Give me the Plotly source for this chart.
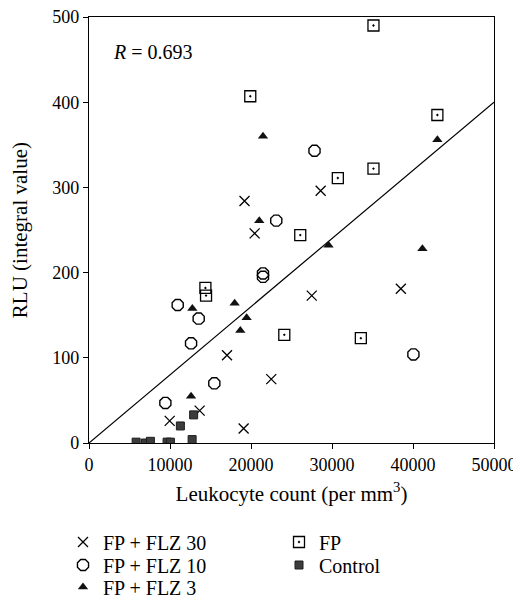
import plotly.graph_objects as go

# FP + FLZ 30 (x markers)
flz30_x = [19200, 28600, 20450, 27500, 38500, 17040, 22500, 13660, 9960, 19090]
flz30_y = [284, 296, 246, 173, 181, 103, 75, 38, 26, 17]

# FP + FLZ 10 (open octagons)
flz10_x = [23120, 27840, 21480, 21480, 10950, 13540, 12600, 15470, 9430, 40050]
flz10_y = [261, 343, 199, 195, 162, 146, 117, 70, 47, 104]

# FP + FLZ 3 (filled triangles)
flz3_x = [21480, 21020, 43010, 29570, 41160, 12760, 17980, 19460, 18680, 12600]
flz3_y = [360, 261, 356, 232, 228, 158, 164, 147, 132, 55]

# FP (open squares with dot)
fp_x = [19910, 35120, 43010, 30720, 35120, 26080, 14370, 14450, 24110, 33560]
fp_y = [407, 490, 385, 311, 322, 244, 182, 173, 127, 123]

# Control
ctrl_x = [5820, 6970, 7580, 9640, 10050, 12730, 12920, 11280]
ctrl_y = [1, 0, 2, 1, 1, 4, 33, 20]

# Regression line endpoints
line_x = [0, 50000]
line_y = [0, 400]

x_ticks = [0, 10000, 20000, 30000, 40000, 50000]
y_ticks = [0, 100, 200, 300, 400, 500]

FONT = "Liberation Serif, Times New Roman, serif"
BLACK = "black"
W, H = 513, 591  # page body has an 8px default margin

fig = go.Figure()
fig.add_trace(go.Scatter(x=line_x, y=line_y, mode="lines",
                         line=dict(color=BLACK, width=1.2),
                         showlegend=False, hoverinfo="skip"))

fig.add_trace(go.Scatter(x=flz30_x, y=flz30_y, mode="markers", name="FP + FLZ 30",
                         legend="legend",
                         marker=dict(symbol="x-thin-open", size=10,
                                     line=dict(color=BLACK, width=1.3), color=BLACK)))
fig.add_trace(go.Scatter(x=flz10_x, y=flz10_y, mode="markers", name="FP + FLZ 10",
                         legend="legend2",
                         marker=dict(symbol="octagon-open", size=12, color=BLACK,
                                     line=dict(color="#222", width=1.4))))
fig.add_trace(go.Scatter(x=flz3_x, y=flz3_y, mode="markers", name="FP + FLZ 3",
                         legend="legend3",
                         marker=dict(symbol="triangle-up", size=9, color="#111",
                                     line=dict(width=0))))
fig.add_trace(go.Scatter(x=fp_x, y=fp_y, mode="markers", name="FP",
                         legend="legend4",
                         marker=dict(symbol="square-open-dot", size=11, color=BLACK,
                                     line=dict(color="#222", width=1.3))))
fig.add_trace(go.Scatter(x=ctrl_x, y=ctrl_y, mode="markers", name="Control",
                         legend="legend5",
                         marker=dict(symbol="square", size=8, color="#3c3c3c",
                                     line=dict(color="#1e1e1e", width=1))))

fig.add_annotation(x=0.055, y=0.919, xref="paper", yref="paper",
                   xanchor="left", yanchor="middle",
                   text="<i>R</i> = 0.693", showarrow=False,
                   font=dict(family=FONT, size=20, color=BLACK))

# y-axis title
fig.add_annotation(x=-0.17, y=0.5, xref="paper", yref="paper",
                   xanchor="center", yanchor="middle", textangle=-90,
                   text="RLU (integral value)", showarrow=False,
                   font=dict(family=FONT, size=21, color=BLACK))

axis_common = dict(showgrid=False, zeroline=False, showline=True, linecolor=BLACK,
                   linewidth=1.2, mirror=True, ticks="outside", ticklen=5,
                   tickcolor=BLACK, ticklabeloverflow="allow",
                   tickfont=dict(family=FONT, size=18, color=BLACK))

fig.update_xaxes(range=[0, 50000], tickvals=x_ticks, ticktext=[str(v) for v in x_ticks],
                 automargin=True,
                 title=dict(text="Leukocyte count (per mm<sup>3</sup>)",
                            font=dict(family=FONT, size=21, color=BLACK), standoff=12),
                 **axis_common)
fig.update_yaxes(range=[0, 500], tickvals=y_ticks, ticktext=[str(v) for v in y_ticks],
                 automargin=False, **axis_common)


def leg(xpx, ypx):
    return dict(xref="container", yref="container", x=xpx / W, y=1 - ypx / H,
                xanchor="left", yanchor="middle", bgcolor="rgba(0,0,0,0)",
                font=dict(family=FONT, size=20, color=BLACK), borderwidth=0)


fig.update_layout(
    width=W, height=H,
    margin=dict(l=81, r=27, t=9, b=156, autoexpand=False),
    paper_bgcolor="white", plot_bgcolor="white",
    font=dict(family=FONT, size=18, color=BLACK),
    showlegend=True,
    legend=leg(55, 534),
    legend2=leg(55, 557),
    legend3=leg(55, 579),
    legend4=leg(271, 534),
    legend5=leg(271, 557),
)

fig.write_html("out.html")
